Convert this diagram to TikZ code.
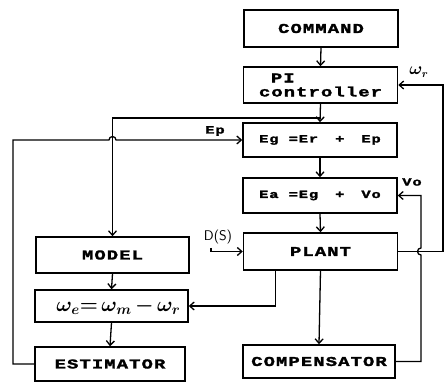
\documentclass[tikz,border=0pt]{standalone}
\usepackage{fontspec}
\usepackage{amsmath,amssymb,bm}
\usetikzlibrary{arrows.meta}
\newfontfamily\blkfont[FakeStretch=1.4,LetterSpace=8,FakeBold=2]{Liberation Mono}

\begin{document}
\begin{tikzpicture}[x=1pt,y=-1pt,
    blk/.style={draw,line width=1.5pt,inner sep=0pt,minimum width=154pt,
      font=\fontsize{13.5}{14}\blkfont\bfseries},
    eqn/.style={font=\fontsize{11}{12}\blkfont\bfseries},
    lbl/.style={font=\fontsize{11}{12}\blkfont\bfseries,inner sep=1pt},
    >={Straight Barb[length=4.5pt,width=8pt]},
    every path/.append style={line width=1.3pt}]
        \useasboundingbox (0,0) rectangle (445,382);
        % blocks of the main loop
        \node[blk,minimum height=37pt] (cmd) at (321,28.5) {COMMAND};
        \node[blk,minimum height=36pt,align=left] (pi) at (320.5,85) {\hspace{12pt}PI\\controller};
        \node[blk,minimum height=34pt,eqn] (eg) at (320,140) {Eg =Er\hspace{17pt}+\hspace{17pt}Ep};
        \node[blk,minimum height=35pt,eqn] (ea) at (320,195.5) {Ea =Eg\hspace{17pt}+\hspace{17pt}Vo};
        \node[blk,minimum height=37pt] (plant) at (320.5,251.5) {PLANT};
        \node[blk,minimum height=33pt,minimum width=152pt] (comp) at (319,361.5) {COMPENSATOR};
        % estimation branch
        \node[blk,minimum height=36pt,minimum width=153pt] (model) at (112.5,255) {MODEL};
        \node[blk,minimum height=32pt,minimum width=153pt,font=\fontsize{20}{22}\selectfont] (we) at (111.5,306) {\hspace{14pt}$\bm{\omega_e{=}\,\omega_m\,{-}\,\omega_r}$};
        \node[blk,minimum height=34pt,minimum width=150pt] (est) at (110,364) {ESTIMATOR};
        % signal labels
        \node[lbl] (ep) at (215,131) {Ep};
        \node[font=\fontsize{16}{17}\selectfont] (wr) at (419,72) {$\bm{\omega_r}$};
        \node[lbl] (vo) at (412,182) {Vo};
        \node[font=\fontsize{14}{15}\sffamily] (ds) at (218,237) {D(S)};
        \coordinate (jn) at (320.5,118);
        \coordinate (epL) at (13,140);
        \coordinate (hopA) at (109,140);
        \coordinate (rx) at (443,0);
        \coordinate (voB) at (421,255);
        \foreach \a/\b in {cmd/pi,pi/eg,eg/ea,ea/plant,plant/comp,model/we,we/est}
          \draw[->] (\a.south) -- (\b.north);
        \draw[->] (jn) -| (model.north);
        \draw[->] (est.west) -| (epL) -- (hopA) arc[start angle=180,end angle=360,radius=3.5] -- (eg.west);
        \draw[->] ([xshift=-45pt]plant.south) |- (we.east);
        \draw[->] (plant.east) -- (plant.east -| rx) |- (pi.east);
        \draw[->] (comp.east) -| (voB) arc[start angle=90,end angle=270,radius=3.5] |- (ea.east);
        \draw[->] ([xshift=-7pt]ds.south) |- (plant.west);
      \end{tikzpicture}
\end{document}
